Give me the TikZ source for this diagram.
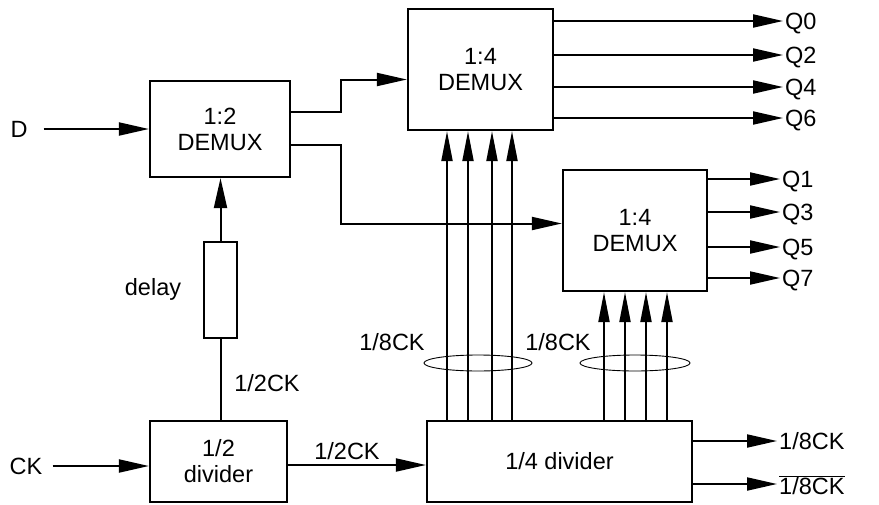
\documentclass[tikz,border=0pt]{standalone}
\usepackage{fontspec}
\setmainfont{Liberation Sans}
\usetikzlibrary{arrows.meta}
\begin{document}
\begin{tikzpicture}[x=1pt,y=-1pt,
  txt/.style={font=\fontsize{23.5}{26}\selectfont, inner sep=2pt},
  lbl/.style={txt, text height=17pt, text depth=0pt},
  blk/.style={draw, line width=2.2pt, align=center, txt},
  wire/.style={line width=2pt},
  arr/.style={wire, -{Triangle[length=30pt,width=13pt]}},
  uparr/.style={wire, -{Triangle[length=30pt,width=11pt]}},
  ring/.style={line width=0.9pt}
]
\useasboundingbox (0,0) rectangle (879,504);

% blocks
\node[blk, minimum width=140pt, minimum height=96pt] (demux2) at (220,129) {1:2\\DEMUX};
\node[blk, minimum width=145pt, minimum height=121pt] (demuxA) at (480.5,69.5) {1:4\\DEMUX};
\node[blk, minimum width=144pt, minimum height=121pt] (demuxB) at (635,230.5) {1:4\\DEMUX};
\node[draw, line width=2.2pt, minimum width=33pt, minimum height=96pt, inner sep=0pt] (delay) at (220.5,290) {};
\node[blk, minimum width=137pt, minimum height=81pt] (div2) at (218.5,461.5) {1/2\\divider};
\node[blk, minimum width=265pt, minimum height=81pt] (div4) at (559.5,461.5) {1/4 divider};

% inputs
\node[lbl] (D) at (19,129) {D};
\node[lbl] (CK) at (26,466) {CK};
\draw[arr] ([xshift=14pt]D.east) -- (demux2.west |- D);
\draw[arr] ([xshift=8pt]CK.east) -- (div2.west |- CK);

% clock path to 1:2 demux
\draw[wire] (delay.south |- div2.north) -- (delay.south);
\draw[arr] (delay.north) -- (delay.north |- demux2.south);
\node[txt, anchor=base] (dl) at (153,295) {delay};
\node[lbl] (ck2a) at (267,383) {1/2CK};
\draw[arr] (div2.east |- 0,465) -- (div4.west |- 0,465);
\node[lbl] (ck2b) at (347,451) {1/2CK};

% demux2 outputs
\draw[arr] ([yshift=17pt]demux2.east) -- ++(50,0) |- ([yshift=-10pt]demuxA.west);
\draw[arr] ([yshift=-16pt]demux2.east) -- ++(50,0) |- ([yshift=7pt]demuxB.west);

% clock rings (drawn first)
\draw[ring] (478,363) ellipse [x radius=54, y radius=8];
\draw[ring] (635,363) ellipse [x radius=55, y radius=8];
\node[lbl] (c8a) at (392,342) {1/8CK};
\node[lbl] (c8b) at (558,342) {1/8CK};

% clock buses
\foreach \x in {447,468,492,512}
  \draw[uparr] (div4.north -| \x,0) -- (demuxA.south -| \x,0);
\foreach \x in {604,625,646,667}
  \draw[uparr] (div4.north -| \x,0) -- (demuxB.south -| \x,0);

% outputs of demuxA
\node[lbl, anchor=west] (q0) at (783,21) {Q0};
\node[lbl, anchor=west] (q2) at (783,55) {Q2};
\node[lbl, anchor=west] (q4) at (783,87) {Q4};
\node[lbl, anchor=west] (q6) at (783,118) {Q6};
\foreach \q in {q0,q2,q4,q6}
  \draw[arr] (demuxA.east |- \q.west) -- (\q.west);

% outputs of demuxB
\node[lbl, anchor=west] (q1) at (780,179) {Q1};
\node[lbl, anchor=west] (q3) at (780,212) {Q3};
\node[lbl, anchor=west] (q5) at (780,247) {Q5};
\node[lbl, anchor=west] (q7) at (780,278) {Q7};
\foreach \q in {q1,q3,q5,q7}
  \draw[arr] (demuxB.east |- \q.west) -- (\q.west);

% outputs of div4
\node[lbl, anchor=west] (o1) at (777,441) {1/8CK};
\node[lbl, anchor=west] (o2) at (777,486) {$\overline{\mbox{1/8CK}}$};
\draw[arr] (div4.east |- o1.west) -- (o1.west);
\draw[arr] (div4.east |- 0,484) -- (o2.west |- 0,484);
\end{tikzpicture}
\end{document}
